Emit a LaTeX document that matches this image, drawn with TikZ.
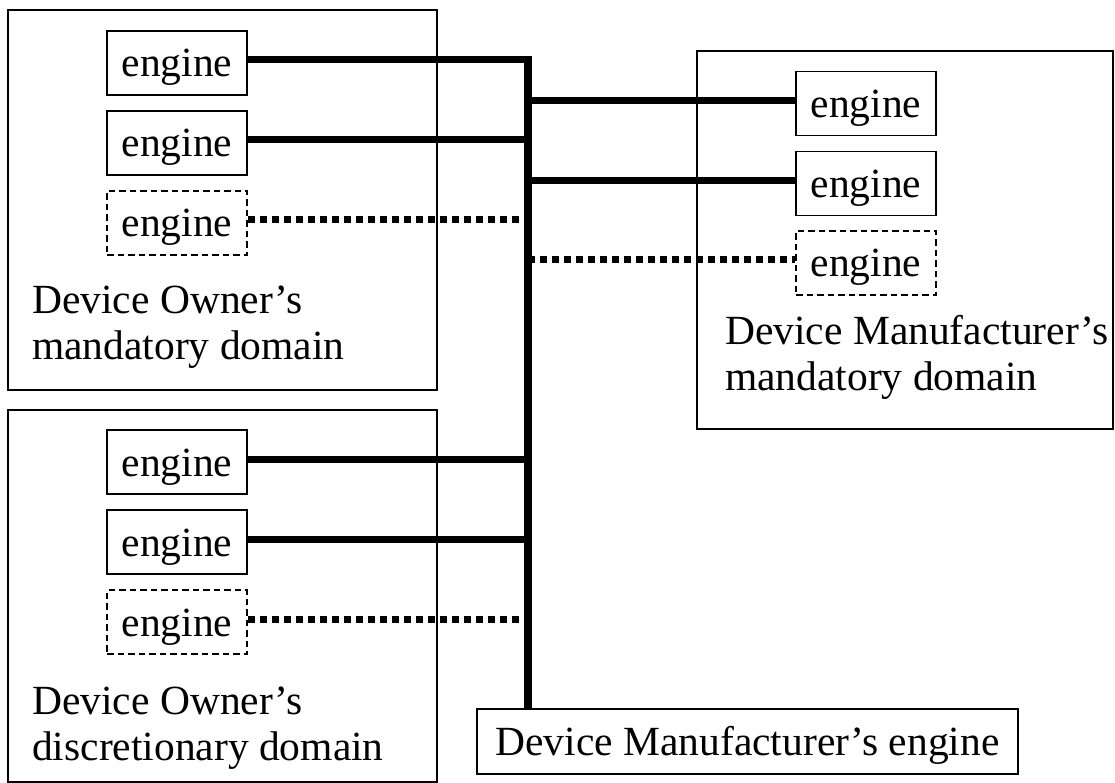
\documentclass[tikz,border=0pt]{standalone}
\usepackage{fontspec}
\setmainfont{Liberation Serif}
\begin{document}
\begin{tikzpicture}[x=1pt,y=-1pt,
  domainbox/.style={draw,line width=1.3pt},
  txt/.style={font=\fontsize{41.5}{46}\selectfont},
  eng/.style={txt,draw,line width=1.7pt,minimum width=140pt,minimum height=64pt,inner sep=0pt,text height=32pt,text depth=4pt},
  opteng/.style={eng,line width=1.8pt,dash pattern=on 6.5pt off 4pt},
  link/.style={line width=7pt},
  optlink/.style={line width=7pt,dash pattern=on 7pt off 5pt},
  busline/.style={line width=8pt},
  lbl/.style={txt,align=left,inner sep=0pt}]
\useasboundingbox (0,0) rectangle (1115,783);

% domains
\draw[domainbox] (8,10) rectangle (437,390);
\draw[domainbox] (8,410) rectangle (437,782);
\draw[domainbox] (697,51) rectangle (1113,429);

% engines of the owner's mandatory domain
\node[eng]    (om1) at (177,63)  {engine};
\node[eng]    (om2) at (177,143) {engine};
\node[opteng] (om3) at (177,223) {engine};
\node[lbl,anchor=base west] (omlbl) at (32,359) {Device Owner’s\\mandatory domain};

% engines of the owner's discretionary domain
\node[eng]    (od1) at (177,462) {engine};
\node[eng]    (od2) at (177,542) {engine};
\node[opteng] (od3) at (177,622) {engine};
\node[lbl,anchor=base west] (odlbl) at (32,760) {Device Owner’s\\discretionary domain};

% engines of the manufacturer's mandatory domain
\node[eng]    (mm1) at (866,103.5) {engine};
\node[eng]    (mm2) at (866,183.5) {engine};
\node[opteng] (mm3) at (866,263)   {engine};
\node[lbl,anchor=base west] (mmlbl) at (725,390) {Device Manufacturer’s\\mandatory domain};

% manufacturer's engine
\node[txt,draw,line width=1.7pt,minimum width=541pt,minimum height=65pt,inner sep=0pt,text height=32pt,text depth=4pt] (dm) at (747.5,741.5) {Device Manufacturer’s engine};

% bus
\coordinate (bus) at (528,56.5);
\draw[busline] (bus) -- (dm.north -| bus);

% connections
\draw[link]    ([yshift=3pt]om1.east) -- ([yshift=3pt]om1.east -| bus);
\draw[link]    ([yshift=3pt]om2.east) -- ([yshift=3pt]om2.east -| bus);
\draw[optlink] ([yshift=3pt]om3.east) -- ([yshift=3pt]om3.east -| bus);
\draw[link]    ([yshift=3pt]od1.east) -- ([yshift=3pt]od1.east -| bus);
\draw[link]    ([yshift=3pt]od2.east) -- ([yshift=3pt]od2.east -| bus);
\draw[optlink] ([yshift=3pt]od3.east) -- ([yshift=3pt]od3.east -| bus);
\draw[link]    ([yshift=3pt]mm1.west -| bus) -- ([yshift=3pt]mm1.west);
\draw[link]    ([yshift=3pt]mm2.west -| bus) -- ([yshift=3pt]mm2.west);
\draw[optlink] ([yshift=3pt]mm3.west -| bus) -- ([yshift=3pt]mm3.west);
\end{tikzpicture}
\end{document}
